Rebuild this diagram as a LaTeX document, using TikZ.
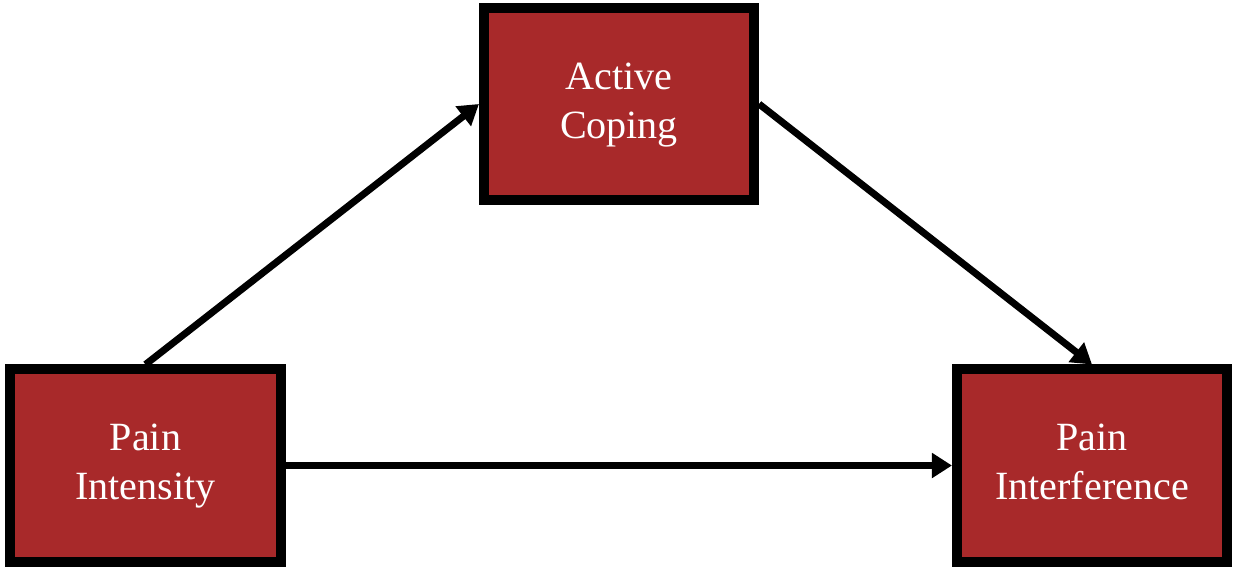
\documentclass[tikz,border=0pt]{standalone}
\usepackage{fontspec}
\setmainfont{Liberation Serif}
\usepackage{xcolor}
\usepackage{tikz}
\usetikzlibrary{arrows.meta}
\definecolor{boxred}{HTML}{A8292A}

\begin{document}
\begin{tikzpicture}[x=0.025cm, y=-0.025cm, >={Triangle[length=0.5cm, width=0.6cm]},
  var/.style={draw, line width=0.25cm, fill=boxred, text=white, minimum width=6.75cm, minimum height=4.8cm,
    align=center, font=\fontsize{28.5}{34.9}\selectfont},
  path/.style={->, line width=0.175cm}]
\useasboundingbox (0,0) rectangle (1233,567);
% mediator on top, predictor and outcome below
\node[var] (ac) at (619,104) {\strut Active\\\strut Coping};
\node[var] (pint) at (145.5,465.5) {\strut Pain\\\strut Intensity};
\node[var] (pinf) at (1092,465.5) {\strut Pain\\\strut Interference};
\foreach \a/\b in {pint.north/ac.west,ac.east/pinf.north,pint.east/pinf.west}
  \draw[path] (\a)--(\b);
\end{tikzpicture}
\end{document}
